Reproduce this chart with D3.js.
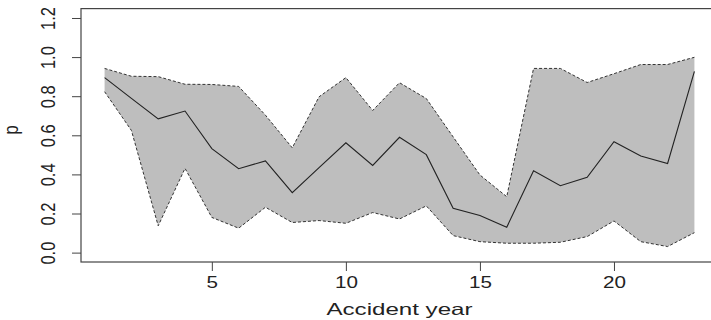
<!DOCTYPE html>
<html>
<head>
<meta charset="utf-8">
<script src="https://cdn.jsdelivr.net/npm/d3@7"></script>
<style>
  body { margin: 0; background: #fff; }
  svg { display: block; font-family: "Liberation Sans", Arial, sans-serif; }
</style>
</head>
<body>
<div id="chart"></div>
<script>
const years = [1, 2, 3, 4, 5, 6, 7, 8, 9, 10, 11, 12, 13, 14, 15, 16, 17, 18, 19, 20, 21, 22, 23];
const median = [0.895, 0.789, 0.684, 0.724, 0.532, 0.429, 0.469, 0.307, 0.435, 0.562, 0.446, 0.590,
                0.501, 0.227, 0.190, 0.130, 0.418, 0.342, 0.385, 0.567, 0.494, 0.456, 0.927];
const upper = [0.942, 0.902, 0.900, 0.861, 0.860, 0.850, 0.703, 0.536, 0.797, 0.895, 0.727, 0.869,
               0.788, 0.592, 0.397, 0.286, 0.942, 0.942, 0.870, 0.915, 0.962, 0.962, 0.999];
const lower = [0.823, 0.625, 0.137, 0.431, 0.180, 0.125, 0.232, 0.154, 0.164, 0.150, 0.205, 0.172,
               0.239, 0.087, 0.056, 0.048, 0.048, 0.053, 0.082, 0.162, 0.056, 0.031, 0.102];
const xTicks = [5, 10, 15, 20];
const yTicks = [0, 0.2, 0.4, 0.6, 0.8, 1.0, 1.2];

const width = 711, height = 320;
const plot = { left: 81, right: 718, top: 8.6, bottom: 262 };
const fontSize = 16.5;
const stretch = 1.25; // the picture is a bit wider than tall

const svg = d3.select("#chart").append("svg")
  .attr("width", width)
  .attr("height", height);

// R-style 4% padding on both axes
const x = d3.scaleLinear().domain([0.12, 23.88]).range([plot.left, plot.right]);
const y = d3.scaleLinear().domain([-0.048, 1.248]).range([plot.bottom, plot.top]);

const rows = years.map((yr, i) => ({ yr, m: median[i], lo: lower[i], hi: upper[i] }));

svg.append("path")
  .datum(rows)
  .attr("fill", "#bebebe")
  .attr("d", d3.area().x(d => x(d.yr)).y0(d => y(d.lo)).y1(d => y(d.hi)));

const dashed = key => d3.line().x(d => x(d.yr)).y(d => y(d[key]));
["hi", "lo"].forEach(k => {
  svg.append("path")
    .datum(rows)
    .attr("fill", "none")
    .attr("stroke", "#333")
    .attr("stroke-width", 1)
    .attr("stroke-dasharray", "3,2")
    .attr("d", dashed(k));
});

svg.append("path")
  .datum(rows)
  .attr("fill", "none")
  .attr("stroke", "#222")
  .attr("stroke-width", 1.1)
  .attr("d", d3.line().x(d => x(d.yr)).y(d => y(d.m)));

// box
svg.append("rect")
  .attr("x", plot.left)
  .attr("y", plot.top)
  .attr("width", plot.right - plot.left)
  .attr("height", plot.bottom - plot.top)
  .attr("fill", "none")
  .attr("stroke", "#444")
  .attr("stroke-width", 1.2);

// x axis
const gx = svg.append("g")
  .attr("transform", `translate(0,${plot.bottom})`)
  .call(d3.axisBottom(x).tickValues(xTicks).tickSize(9).tickPadding(5).tickFormat(d3.format("d")));
gx.select(".domain").remove();
gx.selectAll("line").attr("stroke", "#444");
gx.selectAll("text")
  .attr("font-size", fontSize).attr("fill", "#222")
  .attr("font-family", "Liberation Sans, Arial, sans-serif")
  .attr("transform", `scale(${stretch},1)`);

// y axis with rotated labels
const gy = svg.append("g")
  .attr("transform", `translate(${plot.left},0)`)
  .call(d3.axisLeft(y).tickValues(yTicks).tickSize(9).tickFormat(d3.format(".1f")));
gy.select(".domain").remove();
gy.selectAll("line").attr("stroke", "#444");
gy.selectAll("text")
  .attr("font-size", fontSize).attr("fill", "#222")
  .attr("font-family", "Liberation Sans, Arial, sans-serif")
  .attr("text-anchor", "middle")
  .attr("x", null).attr("dy", null)
  .attr("transform", `translate(-26,0) scale(${stretch},1) rotate(-90)`);

svg.append("text")
  .attr("x", (plot.left + plot.right) / 2)
  .attr("y", 315)
  .attr("text-anchor", "middle")
  .attr("font-size", fontSize)
  .attr("textLength", 146)
  .attr("lengthAdjust", "spacingAndGlyphs")
  .attr("fill", "#222")
  .text("Accident year");

svg.append("text")
  .attr("transform", `translate(18,130) scale(${stretch},1) rotate(-90)`)
  .attr("text-anchor", "middle")
  .attr("font-size", fontSize)
  .attr("fill", "#222")
  .text("p");
</script>
</body>
</html>
